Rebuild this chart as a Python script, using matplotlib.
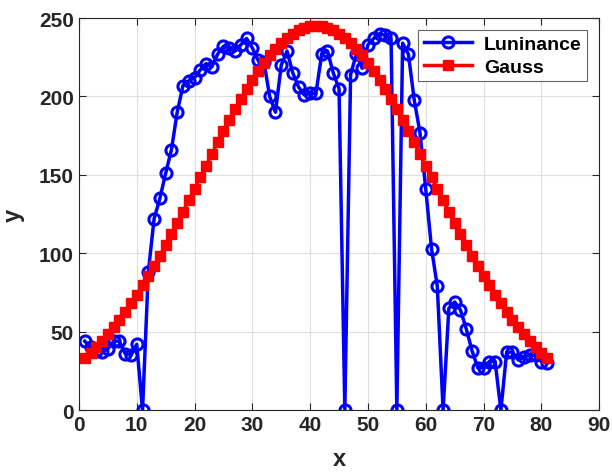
import numpy as np
import matplotlib.pyplot as plt

plt.rcParams['font.family'] = ['Liberation Sans', 'DejaVu Sans']
plt.rcParams['font.weight'] = 'bold'

# 横坐标 1..81
x = np.arange(1, 82)

# 亮度曲线
luminance = [44, 40, 38, 37, 39, 44, 44, 36, 35, 42,
             0, 88, 122, 135, 151, 166, 190, 207, 210, 212,
             217, 221, 219, 227, 232, 231, 229, 233, 237, 231,
             223, 222, 200, 190, 220, 229, 215, 206, 201, 202,
             202, 227, 229, 215, 205, 0, 214, 227, 218, 233,
             237, 240, 239, 237, 0, 234, 227, 198, 177, 141,
             103, 79, 0, 65, 69, 64, 52, 38, 27, 27,
             31, 31, 0, 37, 37, 32, 34, 35, 35, 31, 30]

# 高斯曲线
gauss = [33.2, 36.6, 40.3, 44.3, 48.5, 53.0, 57.8, 62.8, 68.1, 73.7,
         79.5, 85.6, 92.0, 98.5, 105.2, 112.2, 119.3, 126.5, 133.8, 141.2,
         148.6, 156.0, 163.4, 170.7, 177.9, 184.9, 191.8, 198.3, 204.6, 210.6,
         216.2, 221.4, 226.2, 230.4, 234.2, 237.5, 240.1, 242.3, 243.8, 244.7,
         245.0, 244.7, 243.8, 242.3, 240.1, 237.5, 234.2, 230.4, 226.2, 221.4,
         216.2, 210.6, 204.6, 198.3, 191.8, 184.9, 177.9, 170.7, 163.4, 156.0,
         148.6, 141.2, 133.8, 126.5, 119.3, 112.2, 105.2, 98.5, 92.0, 85.6,
         79.5, 73.7, 68.1, 62.8, 57.8, 53.0, 48.5, 44.3, 40.3, 36.6, 33.2]

xticks = [0, 10, 20, 30, 40, 50, 60, 70, 80, 90]
yticks = [0, 50, 100, 150, 200, 250]

fig = plt.figure(figsize=(6.12, 4.77), dpi=100)
ax = fig.add_axes([0.129, 0.138, 0.850, 0.822])

ax.plot(x, luminance, color='blue', lw=2.5, marker='o', ms=8,
        mfc='none', mec='blue', mew=2.2, label='Luninance')
ax.plot(x, gauss, color='red', lw=2.5, marker='s', ms=6.5,
        mfc='red', mec='red', label='Gauss')

ax.set_xlim(0, 90)
ax.set_ylim(0, 250)
ax.set_xticks(xticks)
ax.set_yticks(yticks)
ax.tick_params(direction='in', top=True, right=True, labelsize=15,
               length=5, width=0.8, colors='0.15')
for lab in ax.get_xticklabels() + ax.get_yticklabels():
    lab.set_fontweight('bold')
for s in ax.spines.values():
    s.set_color('0.15')
ax.grid(True, color='0.87', lw=0.8)
ax.set_axisbelow(True)

ax.set_xlabel('x', fontsize=17, fontweight='bold', color='0.15', labelpad=9)
ax.set_ylabel('y', fontsize=17, fontweight='bold', color='0.15', labelpad=10)

leg = ax.legend(loc='upper right', fontsize=14, fancybox=False,
                edgecolor='0.4', framealpha=1, handlelength=2.5,
                borderaxespad=0.6, handletextpad=0.6, labelspacing=0.25,
                borderpad=0.3)
leg.get_frame().set_linewidth(0.8)

plt.savefig('out.png', dpi=100)
